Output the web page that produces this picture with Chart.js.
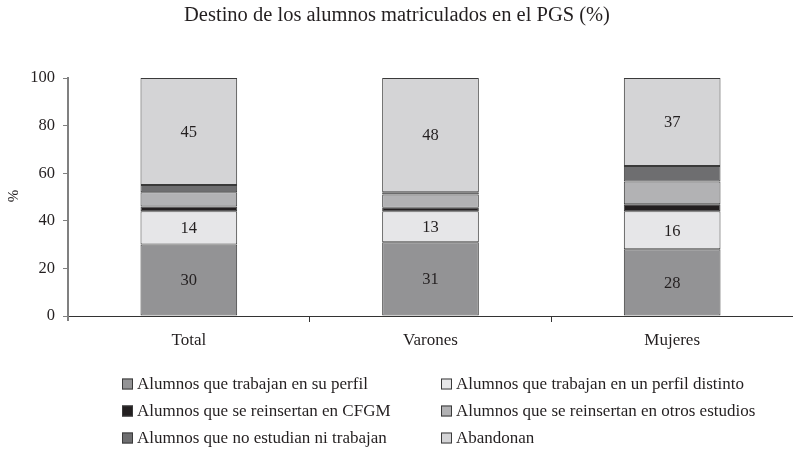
<!DOCTYPE html>
<html>
<head>
<meta charset="utf-8">
<script src="https://cdn.jsdelivr.net/npm/chart.js@4/dist/chart.umd.min.js"></script>
<style>
  html, body { margin: 0; padding: 0; background: #ffffff; }
  #wrap { width: 793px; height: 451px; }
</style>
</head>
<body>
<div id="wrap"><canvas id="c" width="793" height="451"></canvas></div>
<script>
// Categories and series (percent of enrolled students)
const categories = ['Total', 'Varones', 'Mujeres'];
const trabajanPerfil = [30, 31, 28];
const trabajanDistinto = [14, 13, 16];
const reinsertanCFGM = [2, 1.5, 3];
const reinsertanOtros = [6, 5.5, 9.5];
const niEstudianNiTrabajan = [3, 1, 6.5];
const abandonan = [45, 48, 37];
const yTicks = [0, 20, 40, 60, 80, 100];

const seriesLabels = [
  'Alumnos que trabajan en su perfil',
  'Alumnos que trabajan en un perfil distinto',
  'Alumnos que se reinsertan en CFGM',
  'Alumnos que se reinsertan en otros estudios',
  'Alumnos que no estudian ni trabajan',
  'Abandonan'
];
const seriesValues = [trabajanPerfil, trabajanDistinto, reinsertanCFGM, reinsertanOtros, niEstudianNiTrabajan, abandonan];
const seriesColors = ['#939395', '#e6e6e8', '#231f20', '#b2b2b4', '#6e6e70', '#d4d4d6'];
// series whose values are printed inside the bar
const labelledSeries = [0, 1, 5];

const FONT = '"Liberation Serif", "DejaVu Serif", serif';
const TEXT = '#231f20';

// Title, axis title and two-column legend drawn onto the canvas
const decorations = {
  id: 'decorations',
  afterDraw(chart) {
    const ctx = chart.ctx;
    ctx.save();
    ctx.fillStyle = TEXT;
    ctx.textBaseline = 'middle';

    ctx.font = '20.5px ' + FONT;
    ctx.textAlign = 'center';
    ctx.fillText('Destino de los alumnos matriculados en el PGS (%)', 397, 16);

    ctx.save();
    ctx.translate(14, 196);
    ctx.rotate(-Math.PI / 2);
    ctx.font = '15px ' + FONT;
    ctx.fillText('%', 0, 0);
    ctx.restore();

    // small extension of the value axis below zero
    ctx.strokeStyle = '#808080';
    ctx.lineWidth = 2;
    ctx.beginPath();
    ctx.moveTo(chart.chartArea.left, chart.chartArea.bottom);
    ctx.lineTo(chart.chartArea.left, chart.chartArea.bottom + 5);
    ctx.stroke();

    ctx.font = '17px ' + FONT;
    ctx.textAlign = 'left';
    const cols = [122, 441];
    const rows = [384, 411, 438];
    chart.data.datasets.forEach((ds, i) => {
      const x = cols[i % 2];
      const y = rows[Math.floor(i / 2)];
      ctx.fillStyle = ds.backgroundColor;
      ctx.fillRect(x, y - 5.5, 11, 11);
      ctx.strokeStyle = '#3a3a3a';
      ctx.lineWidth = 1;
      ctx.strokeRect(x + 0.5, y - 5, 10, 10);
      ctx.fillStyle = TEXT;
      ctx.fillText(ds.label, x + 15, y + 1);
    });
    ctx.restore();
  }
};

// Values written at the centre of selected segments
const segmentValues = {
  id: 'segmentValues',
  afterDatasetsDraw(chart) {
    const ctx = chart.ctx;
    ctx.save();
    ctx.font = '16.5px ' + FONT;
    ctx.fillStyle = TEXT;
    ctx.textAlign = 'center';
    ctx.textBaseline = 'middle';
    labelledSeries.forEach(di => {
      const meta = chart.getDatasetMeta(di);
      meta.data.forEach((el, j) => {
        const v = chart.data.datasets[di].data[j];
        const yc = (el.y + el.base) / 2;
        ctx.fillText(String(v), el.x, yc + 1);
      });
    });
    ctx.restore();
  }
};

new Chart(document.getElementById('c'), {
  type: 'bar',
  data: {
    labels: categories,
    datasets: seriesLabels.map((label, i) => ({
      label,
      data: seriesValues[i],
      backgroundColor: seriesColors[i],
      borderColor: '#3a3a3a',
      borderWidth: 1,
      borderSkipped: false,
      barPercentage: 0.4,
      categoryPercentage: 1.0
    }))
  },
  options: {
    responsive: false,
    devicePixelRatio: 1,
    animation: false,
    layout: { padding: { top: 78, right: 0, left: 0, bottom: 0 } },
    plugins: {
      legend: { display: false },
      title: { display: false },
      tooltip: { enabled: false }
    },
    scales: {
      x: {
        stacked: true,
        afterFit(scale) { scale.height = 135; },
        grid: {
          display: true,
          offset: true,
          drawOnChartArea: false,
          tickLength: 6,
          lineWidth: 1,
          // separators only between categories
          color: (c) => (c.index === 0 || c.index >= categories.length) ? 'rgba(0,0,0,0)' : '#333333'
        },
        border: { color: '#333333', width: 1 },
        ticks: { color: TEXT, font: { family: FONT, size: 17 }, padding: 8 }
      },
      y: {
        stacked: true,
        min: 0,
        max: 100,
        afterFit(scale) { scale.width = 68; },
        afterBuildTicks(scale) { scale.ticks = yTicks.map(v => ({ value: v })); },
        grid: { display: true, drawOnChartArea: false, tickLength: 5, color: '#808080', lineWidth: 1 },
        border: { color: '#808080', width: 2 },
        ticks: { color: TEXT, font: { family: FONT, size: 16.5 }, padding: 8 }
      }
    }
  },
  plugins: [segmentValues, decorations]
});
</script>
</body>
</html>
